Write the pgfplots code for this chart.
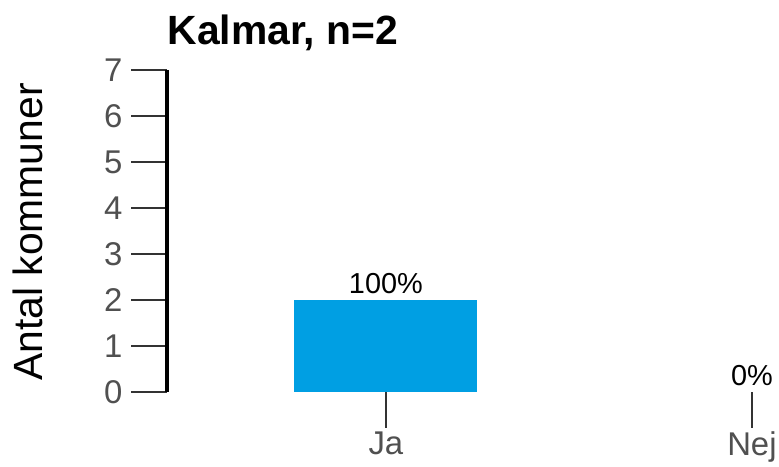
\documentclass[border=0pt]{standalone}
\usepackage{fontspec}
\setmainfont{Liberation Sans}
\usepackage{pgfplots}
\pgfplotsset{compat=1.18}
\definecolor{barblue}{HTML}{009FE3}
\definecolor{tickgray}{HTML}{505050}
\definecolor{tickline}{HTML}{333333}
\begin{document}
\begin{tikzpicture}
\begin{axis}[name=ax, scale only axis, width=612bp, height=322bp,
 xmin=-0.598, xmax=1.074, ymin=0, ymax=7,
 ybar, bar width=0.5, bar shift=0pt,
 axis y line=left, axis x line=bottom,
 y axis line style={-, line width=4bp, black},
 x axis line style={draw=none},
 xtick={0,1}, xticklabels={Ja,Nej},
 ytick={0,1,2,3,4,5,6,7},
 tick align=outside,
 major tick length=36bp,
 tick style={line width=2bp, color=tickline},
 ticklabel style={font=\fontsize{33}{40}\selectfont, text=tickgray},
 yticklabel style={xshift=-5bp},
 /pgf/number format/assume math mode=true,
 ylabel={Antal kommuner},
 ylabel style={font=\fontsize{41}{49}\selectfont, at={(axis description cs:-0.2271,0.497)}, anchor=center},
 title={Kalmar, n=2},
 title style={font=\bfseries\fontsize{41}{49}\selectfont, at={(axis description cs:0,1)}, anchor=base west, yshift=20bp, xshift=-3bp},
 nodes near coords, point meta=explicit symbolic,
 nodes near coords style={font=\fontsize{29}{35}\selectfont, text=black, yshift=3bp},
]
\addplot[fill=barblue, draw=none] coordinates {(0,2) [100\%]};
\addplot[fill=none, draw=none] coordinates {(1,0) [0\%]};
\end{axis}
\pgfresetboundingbox
\path ([shift={(-167bp,-75bp)}]ax.south west) rectangle ([shift={(0bp,70bp)}]ax.north east);
\end{tikzpicture}
\end{document}
